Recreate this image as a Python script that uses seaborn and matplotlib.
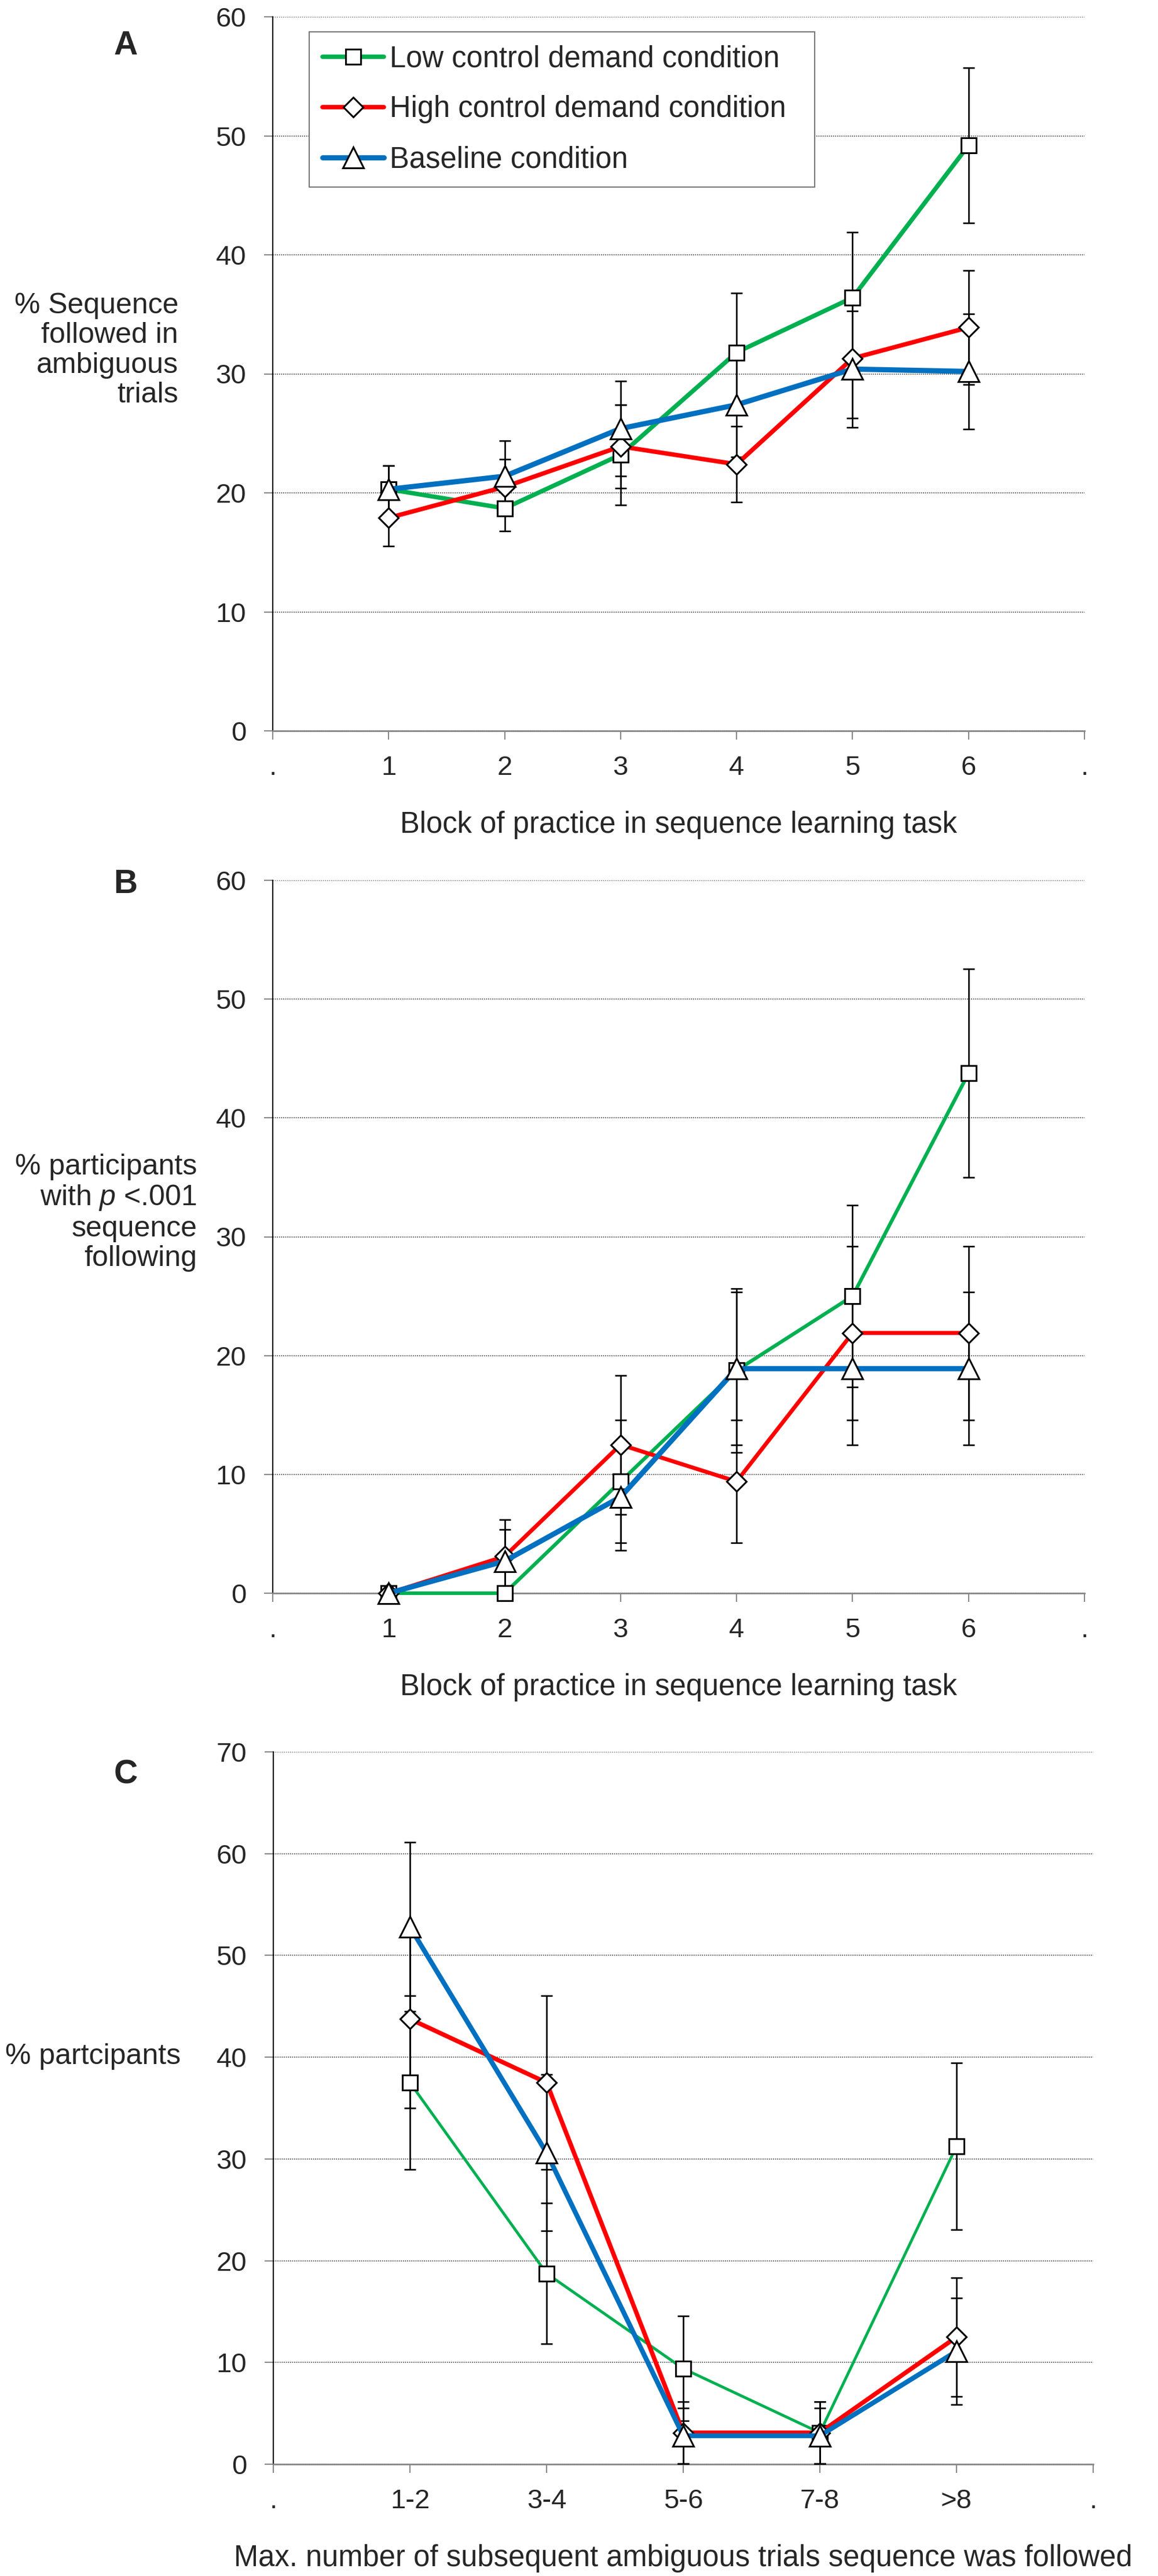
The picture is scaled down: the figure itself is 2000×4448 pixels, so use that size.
import matplotlib
matplotlib.use("Agg")
import matplotlib.pyplot as plt
import seaborn as sns
import pandas as pd

conditions = ['Low control demand condition', 'High control demand condition', 'Baseline condition']

# panel A: % sequence followed in ambiguous trials, per block
blocks = [1, 2, 3, 4, 5, 6]
block_labels = ['.', '1', '2', '3', '4', '5', '6', '.']
seq_low = [20.3, 18.7, 23.2, 31.8, 36.4, 49.2]
seq_low_err = [2.0, 1.9, 4.2, 5.0, 5.5, 6.5]
seq_high = [17.9, 20.5, 23.9, 22.4, 31.3, 33.9]
seq_high_err = [2.4, 2.3, 3.5, 3.2, 5.0, 4.8]
seq_base = [20.3, 21.4, 25.4, 27.4, 30.4, 30.2]
seq_base_err = [2.0, 3.0, 4.0, 4.4, 4.9, 4.85]

# panel B: % participants with p < .001 sequence following
part_low = [0, 0, 9.4, 18.75, 25.0, 43.75]
part_low_err = [0, 0, 5.15, 6.9, 7.65, 8.77]
part_high = [0, 3.1, 12.5, 9.4, 21.9, 21.9]
part_high_err = [0, 3.07, 5.85, 5.15, 7.31, 7.31]
part_base = [0, 2.7, 8.1, 18.9, 18.9, 18.9]
part_base_err = [0, 2.67, 4.49, 6.44, 6.44, 6.44]

# panel C: max run of ambiguous trials following the sequence
runs = [1, 2, 3, 4, 5]
run_labels = ['.', '1-2', '3-4', '5-6', '7-8', '>8', '.']
run_low = [37.5, 18.75, 9.4, 3.1, 31.25]
run_low_err = [8.56, 6.9, 5.15, 3.07, 8.19]
run_high = [43.75, 37.5, 3.1, 3.1, 12.5]
run_high_err = [8.77, 8.56, 3.07, 3.07, 5.85]
run_base = [52.8, 30.6, 2.8, 2.8, 11.1]
run_base_err = [8.32, 7.68, 2.74, 2.74, 5.24]

colors = {conditions[0]: '#00B050', conditions[1]: '#FF0000', conditions[2]: '#0070C0'}
markers = {conditions[0]: 's', conditions[1]: 'D', conditions[2]: '^'}
msizes = {conditions[0]: 19, conditions[1]: 17.5, conditions[2]: 26}

sns.set_style('white')
plt.rcParams['font.family'] = ['Liberation Sans', 'DejaVu Sans']
plt.rcParams['mathtext.fontset'] = 'custom'
plt.rcParams['mathtext.rm'] = 'Liberation Sans'
plt.rcParams['mathtext.it'] = 'Liberation Sans:italic'

W, H = 2000, 4448
fig = plt.figure(figsize=(W / 100, H / 100), dpi=100)


def px_axes(x0, x1, y0, y1):
    return fig.add_axes([x0 / W, 1 - y1 / H, (x1 - x0) / W, (y1 - y0) / H])


def draw_panel(ax, x, series, errs, widths, ticklabels, ymax):
    for cond, vals, err, lw in zip(conditions, series, errs, widths):
        df = pd.DataFrame({'x': x, 'y': vals})
        ax.errorbar(x, vals, yerr=err, fmt='none', ecolor='black', elinewidth=1.9,
                    capsize=7.5, capthick=1.9, zorder=3, clip_on=False)
        sns.lineplot(data=df, x='x', y='y', ax=ax, color=colors[cond], linewidth=lw,
                     marker=markers[cond], markersize=msizes[cond], markerfacecolor='white',
                     markeredgecolor='black', markeredgewidth=2.2, label=cond,
                     legend=False, zorder=4, clip_on=False)
    ax.set_xlim(0, len(ticklabels) - 1)
    ax.set_ylim(0, ymax)
    ax.set_xticks(range(len(ticklabels)))
    ax.set_xticklabels(ticklabels)
    ax.set_yticks(range(0, ymax + 1, 10))
    ax.yaxis.grid(True, color='#555555', linestyle=(0, (1, 1)), linewidth=1.3)
    ax.xaxis.grid(False)
    ax.set_axisbelow(True)
    for s in ['top', 'right']:
        ax.spines[s].set_visible(False)
    ax.spines['left'].set_color('black')
    ax.spines['left'].set_linewidth(1.5)
    ax.spines['bottom'].set_color('#888888')
    ax.spines['bottom'].set_linewidth(2)
    ax.tick_params(axis='x', direction='out', length=11, width=1.5, color='#888888',
                   labelsize=34, pad=19, bottom=True)
    ax.tick_params(axis='y', direction='out', length=11, width=1.5, color='#888888',
                   labelsize=34, pad=22, left=True)
    ax.set_ylabel('')


# A
axA = px_axes(471, 1873, 29, 1262)
draw_panel(axA, blocks, [seq_low, seq_high, seq_base], [seq_low_err, seq_high_err, seq_base_err],
           [5.5, 5.5, 6.5], block_labels, 60)
axA.set_xlabel('Block of practice in sequence learning task', fontsize=36.5, labelpad=38)
leg = axA.legend(loc='upper left', mode='expand',
                 bbox_to_anchor=(534 / W, 1 - 59 / H, (1407 - 534) / W, 0.001),
                 bbox_transform=fig.transFigure,
                 fontsize=36.5, frameon=True, fancybox=False, framealpha=1, edgecolor='#777777',
                 borderpad=0.45, labelspacing=0.75, handlelength=2.1, handletextpad=0.2,
                 borderaxespad=0)
leg.get_frame().set_linewidth(1.5)

# B
axB = px_axes(471, 1873, 1520, 2751)
draw_panel(axB, blocks, [part_low, part_high, part_base], [part_low_err, part_high_err, part_base_err],
           [4.5, 5, 6.5], block_labels, 60)
axB.set_xlabel('Block of practice in sequence learning task', fontsize=36.5, labelpad=38)

# C
axC = px_axes(472, 1888, 3025, 4255)
draw_panel(axC, runs, [run_low, run_high, run_base], [run_low_err, run_high_err, run_base_err],
           [3.5, 5.5, 6], run_labels, 70)
axC.set_xlabel('Max. number of subsequent ambiguous trials sequence was followed', fontsize=36.5, labelpad=38)

# panel letters and horizontal y labels
for letter, y in [('A', 79), ('B', 1527), ('C', 3064)]:
    fig.text(217 / W, 1 - y / H, letter, ha='center', va='center', fontsize=41, fontweight='bold')

fig.text(308 / W, 1 - 605 / H, '% Sequence\nfollowed in\nambiguous\ntrials', ha='right', va='center',
         multialignment='right', fontsize=36, linespacing=1.15)
fig.text(340 / W, 1 - 2094 / H, '% participants\nwith $p$ <.001\nsequence\nfollowing', ha='right',
         va='center', multialignment='right', fontsize=36, linespacing=1.15)
fig.text(312 / W, 1 - 3551 / H, '% partcipants', ha='right', va='center', fontsize=36)

fig.savefig('out.png', dpi=100, facecolor='white')
